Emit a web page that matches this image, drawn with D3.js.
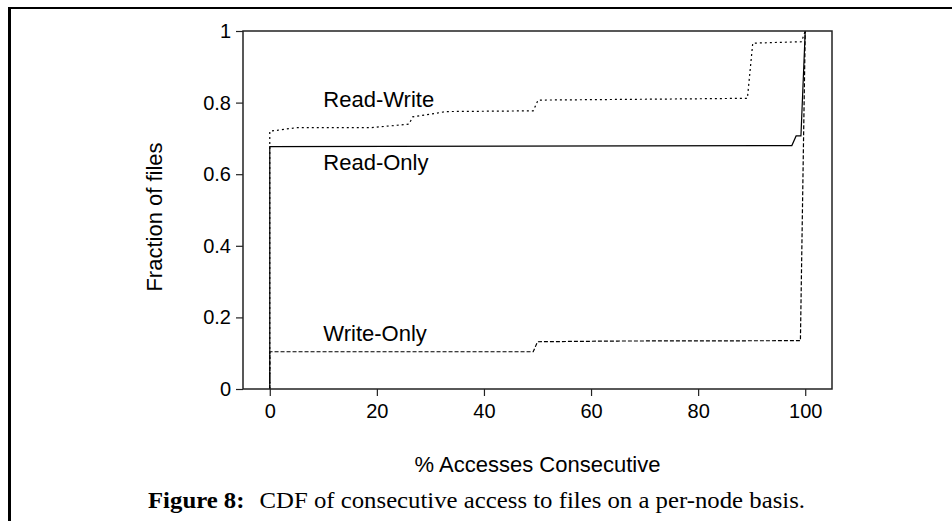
<!DOCTYPE html>
<meta charset="utf-8">
<style>
body { margin: 0; background: #fff; }
text { font-family: "Liberation Sans", Arial, sans-serif; }
</style>
<body>
<script src="https://cdnjs.cloudflare.com/ajax/libs/d3/7.8.5/d3.min.js"></script>
<script>

var width = 952,
    height = 521;

// CDF step points
var readOnlyX  = [0, 0, 97.5, 98.3, 99.2, 100];
var readOnlyY  = [0, 0.677, 0.68, 0.707, 0.707, 1];

var readWriteX = [0, 0, 5, 19, 26, 26.7, 33, 49.2, 50.1, 75, 89.2, 90.2, 99.3, 100];
var readWriteY = [0, 0.72, 0.73, 0.73, 0.74, 0.76, 0.775, 0.777, 0.807, 0.81, 0.812, 0.966, 0.97, 1];

var writeOnlyX = [0, 0, 49.2, 50, 65, 99.1, 100];
var writeOnlyY = [0, 0.104, 0.104, 0.132, 0.134, 0.135, 1];

var xTicks = [0, 20, 40, 60, 80, 100];
var yTicks = [0, 0.2, 0.4, 0.6, 0.8, 1];

var series = [
    {name: "Read-Only",  xs: readOnlyX,  ys: readOnlyY,  dash: null,  lx: 10, ly: 0.612},
    {name: "Read-Write", xs: readWriteX, ys: readWriteY, dash: "2,3", lx: 10, ly: 0.788},
    {name: "Write-Only", xs: writeOnlyX, ys: writeOnlyY, dash: "4,2", lx: 10, ly: 0.135}
];

var pLeft = 243, pTop = 31, pRight = 832, pBottom = 389;

var x = d3.scaleLinear().domain([-5, 105]).range([pLeft, pRight]);
var y = d3.scaleLinear().domain([0, 1]).range([pBottom, pTop]);

var svg = d3.select("body").append("svg")
    .attr("width", width)
    .attr("height", height);

// page frame (top and left rules)
svg.append("line").attr("x1", 8).attr("x2", width).attr("y1", 8).attr("y2", 8)
    .attr("stroke", "#000").attr("stroke-width", 2);
svg.append("line").attr("x1", 9.5).attr("x2", 9.5).attr("y1", 7).attr("y2", height)
    .attr("stroke", "#000").attr("stroke-width", 3);

var line = d3.line()
    .x(function(d) { return x(d[0]); })
    .y(function(d) { return y(d[1]); });

series.forEach(function(s) {
    var pts = s.xs.map(function(v, i) { return [v, s.ys[i]]; });
    svg.append("path")
        .attr("d", line(pts))
        .attr("fill", "none")
        .attr("stroke", "#000")
        .attr("stroke-width", 1.2)
        .attr("stroke-dasharray", s.dash);
    svg.append("text")
        .attr("x", x(s.lx))
        .attr("y", y(s.ly))
        .attr("font-size", 22)
        .text(s.name);
});

var xAxis = svg.append("g")
    .attr("transform", "translate(0," + pBottom + ")")
    .call(d3.axisBottom(x).tickValues(xTicks).tickSize(7).tickPadding(8).tickSizeOuter(0));
var yAxis = svg.append("g")
    .attr("transform", "translate(" + pLeft + ",0)")
    .call(d3.axisLeft(y).tickValues(yTicks).tickSize(7).tickPadding(5).tickSizeOuter(0)
        .tickFormat(d3.format("")));

[xAxis, yAxis].forEach(function(g) {
    g.select(".domain").remove();
    g.selectAll("line").attr("stroke", "#222").attr("stroke-width", 1.2);
    g.selectAll("text").attr("font-size", 20).attr("fill", "#000")
        .style("font-family", '"Liberation Sans", Arial, sans-serif');
});

// plot box
svg.append("rect")
    .attr("x", pLeft).attr("y", pTop)
    .attr("width", pRight - pLeft).attr("height", pBottom - pTop)
    .attr("fill", "none").attr("stroke", "#222").attr("stroke-width", 1.5);

svg.append("text")
    .attr("x", (pLeft + pRight) / 2)
    .attr("y", 472)
    .attr("text-anchor", "middle")
    .attr("font-size", 22)
    .text("% Accesses Consecutive");

svg.append("text")
    .attr("transform", "translate(162,217) rotate(-90)")
    .attr("text-anchor", "middle")
    .attr("font-size", 22)
    .text("Fraction of files");

var cap = svg.append("text")
    .attr("x", 148)
    .attr("y", 508)
    .attr("font-size", 23)
    .attr("textLength", 657)
    .attr("lengthAdjust", "spacingAndGlyphs")
    .style("font-family", '"Liberation Serif", "DejaVu Serif", serif');
cap.append("tspan").attr("font-weight", "bold").text("Figure 8:");
cap.append("tspan").attr("dx", 14).text("CDF of consecutive access to files on a per-node basis.");

</script>
